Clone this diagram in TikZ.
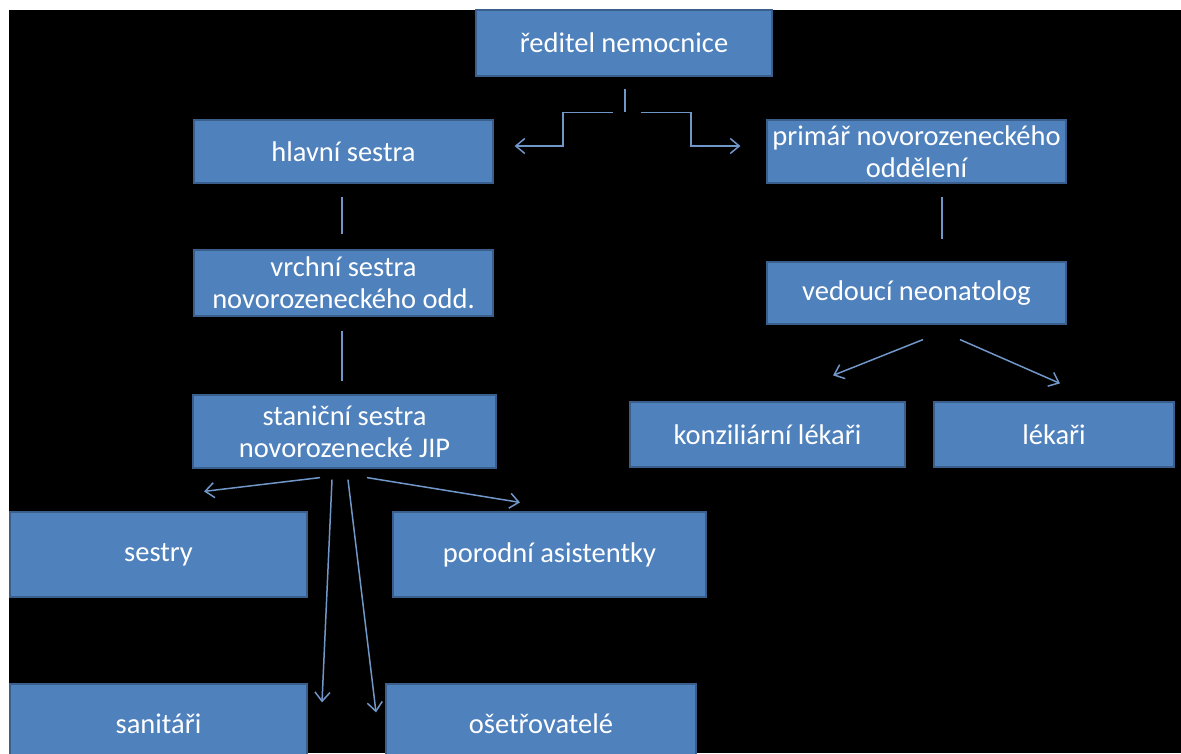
\documentclass[tikz,border=0pt]{standalone}
\usepackage{fontspec}
\setmainfont{Carlito}
\usetikzlibrary{arrows.meta,calc}
\definecolor{boxfill}{HTML}{4F81BD}
\definecolor{boxline}{HTML}{3A5F8C}
\definecolor{conn}{HTML}{7196C8}
\tikzset{
  orgbox/.style={fill=boxfill,draw=boxline,line width=1.2pt,text=white,align=center,
    font=\fontsize{28.5}{32}\selectfont,inner sep=0pt},
  link/.style={draw=conn,line width=1.5pt},
  arr/.style={link,-{Straight Barb[length=9pt,width=15pt,line width=1.5pt]}}
}
\newcommand{\orgnode}[6]{% name, x1, y1, x2, y2, text
  \node[orgbox,minimum width={#4-#2},minimum height={#5-#3}] (#1) at ({(#2+#4)/2},{(#3+#5)/2}) {#6};}
\begin{document}
\begin{tikzpicture}[x=1pt,y=-1pt]
\useasboundingbox (0,0) rectangle (1181,753);
\clip (0,0) rectangle (1181,753);
\fill[white] (0,0) rectangle (1181,753);
\fill[black] (9,10) rectangle (1181,753);
\orgnode{dir}{476}{10}{772}{76}{ředitel nemocnice}
\orgnode{hl}{194}{120}{493}{183}{hlavní sestra}
\orgnode{pri}{767}{120}{1066}{183}{primář novorozeneckého\\oddělení}
\orgnode{vr}{194}{250}{493}{316}{vrchní sestra\\novorozeneckého odd.}
\orgnode{ved}{767}{262}{1066}{324}{vedoucí neonatolog}
\orgnode{st}{193}{395}{496}{468}{staniční sestra\\novorozenecké JIP}
\orgnode{kon}{630}{402}{905}{467}{konziliární lékaři}
\orgnode{lek}{934}{402}{1174}{467}{lékaři}
\orgnode{ses}{10}{512}{307}{597}{sestry}
\orgnode{por}{393}{512}{706}{597}{porodní asistentky}
\orgnode{san}{10}{684}{307}{764}{sanitáři}
\orgnode{ose}{386}{684}{696}{764}{ošetřovatelé}
% top connectors
\coordinate (dirA) at ($(dir.south)+(1,12)$);
\draw[link] (dirA) -- ++(0,23);
\draw[arr] ($(dir.south)+(-11,36)$) -- ++(-50,0) |- ($(hl.east)+(21,-5.5)$);
\draw[arr] ($(dir.south)+(17,36)$) -- ++(50,0) |- ($(pri.west)+(-26,-5.5)$);
% straight links
\draw[link] ($(hl.south)+(-1.5,13)$) -- ($(vr.north)+(-1.5,-15)$);
\draw[link] ($(pri.south)+(25.5,13)$) -- ($(ved.north)+(25.5,-22)$);
\draw[link] ($(vr.south)+(-1.5,14)$) -- ($(st.north)+(-2.5,-13)$);
% vedouci arrows
\draw[arr] ($(ved.south)+(6.5,15)$) -- ($(kon.north)+(65.5,-26)$);
\draw[arr] ($(ved.south)+(43.5,15)$) -- ($(lek.north)+(6,-18)$);
% stanicni arrows
\draw[arr] ($(st.south)+(-24.5,9)$) -- ($(ses.north)+(45.5,-20)$);
\draw[arr] ($(st.south)+(22.5,9)$) -- ($(por.north)+(-29.5,-9)$);
\draw[arr] ($(st.south)+(-12.5,11)$) -- ($(san.north)+(163.5,19)$);
\draw[arr] ($(st.south)+(3.5,11)$) -- ($(ose.north)+(-165,29)$);
\end{tikzpicture}
\end{document}
